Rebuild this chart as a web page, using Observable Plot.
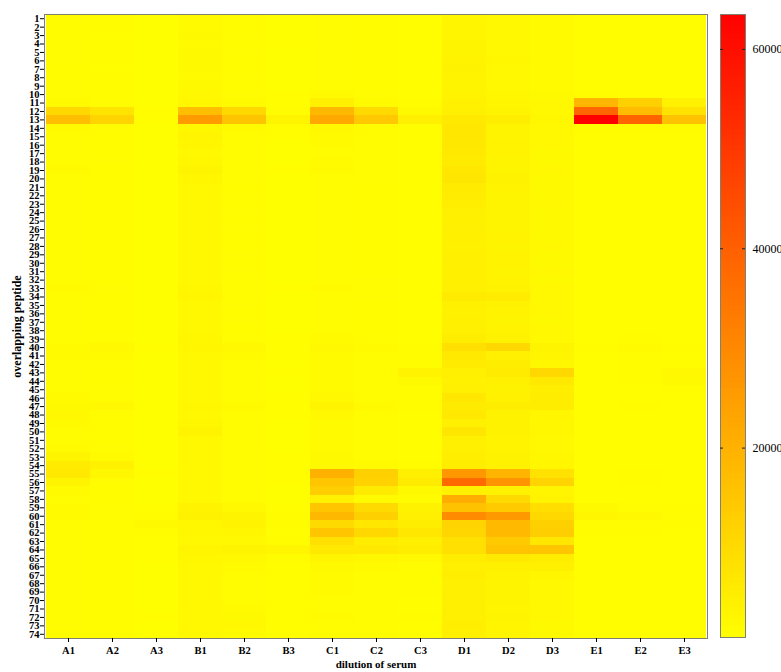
<!DOCTYPE html>
<html>
<head>
<meta charset="utf-8">
<script src="https://cdn.jsdelivr.net/npm/d3@7"></script>
<script src="https://cdn.jsdelivr.net/npm/@observablehq/plot@0.6"></script>
<style>
  html, body { margin: 0; padding: 0; background: #fff; }
  #wrap { position: relative; width: 781px; height: 672px; overflow: hidden; }
  #main { position: absolute; left: 0; top: 0; }
  #bar { position: absolute; left: 715px; top: 0; }
</style>
</head>
<body>
<div id="wrap"><div id="main"></div><div id="bar"></div></div>
<script>
// Column (dilution) labels
const columns = ["A1","A2","A3","B1","B2","B3","C1","C2","C3","D1","D2","D3","E1","E2","E3"];
// Row (overlapping peptide) labels
const peptides = Array.from({length: 74}, (_, i) => String(i + 1));
// Colour bar tick labels
const barTicks = [20000, 40000, 60000];
const valueRange = [1000, 63500];

// Values per column, peptide 1..74
const A1 = [1900,1800,1800,1900,2000,1900,1800,1800,1900,2000,
  2300,10500,17000,2200,2000,2100,2000,2100,2200,2000,
  1900,2000,2100,2000,1900,2000,2100,2000,1900,2000,
  2000,2100,2200,2100,2000,2000,1900,2000,2100,2300,
  2200,2100,2000,2100,2000,2200,2400,2600,2200,2000,
  2100,2300,3800,6000,6500,3800,2200,2100,2300,2200,
  2000,2100,2000,2100,2000,1900,1900,2000,2000,1900,
  1900,2000,1900,1800];
const A2 = [1700,1700,1600,1700,1800,1700,1600,1700,1700,1800,
  2000,7500,11500,1900,1800,1700,1800,1900,1800,1700,
  1700,1800,1700,1700,1800,1700,1700,1800,1700,1700,
  1800,1800,1900,1800,1700,1800,1700,1800,2000,2600,
  2200,1900,1800,1800,1900,2000,2600,2100,1800,1800,
  1800,1900,2300,4500,3000,2100,1800,1800,1900,2000,
  1800,1800,1700,1800,1800,1700,1700,1700,1800,1700,
  1700,1800,1700,1700];
const A3 = [1200,1200,1200,1300,1200,1200,1200,1200,1200,1300,
  1300,1500,1600,1300,1200,1200,1200,1200,1300,1200,
  1200,1200,1200,1200,1200,1300,1200,1200,1200,1200,
  1200,1200,1300,1200,1200,1200,1200,1200,1300,1400,
  1300,1200,1300,1200,1200,1200,1300,1200,1200,1200,
  1200,1200,1300,1300,1400,1300,1200,1200,1500,1800,
  2400,1800,1600,1500,1400,1300,1300,1200,1200,1300,
  1300,1400,1300,1200];
const B1 = [2300,2300,2400,2300,2400,2500,2400,2300,2400,2600,
  3000,17000,25500,3000,3400,3200,2800,2900,3600,3300,
  2700,2600,2700,2800,2600,2700,2600,2700,2800,2700,
  2600,2700,2900,3200,2800,2700,2600,2700,2900,3300,
  2800,2700,2600,2800,2700,2800,3000,2800,2900,3600,
  2700,2600,2700,2800,2700,2600,2700,2800,3900,4300,
  3000,2900,2800,3400,2900,2700,2600,2700,2600,2700,
  2600,2800,2700,2600];
const B2 = [1800,1800,1900,1800,1900,1800,1800,1900,1800,1900,
  2200,10500,15500,2200,2000,1900,2000,2100,2000,1900,
  1800,1900,1800,1900,1800,1900,1800,1800,1900,1800,
  1900,1900,2000,2100,1900,1800,1900,1800,2000,2600,
  2200,2000,1900,2000,1900,2000,2200,2000,1900,2000,
  1900,1900,2000,2000,2100,2000,1900,2000,2800,3700,
  3900,3200,2600,3600,2600,2200,2100,2000,2100,2100,
  2200,2500,2600,2200];
const B3 = [1300,1300,1300,1400,1300,1300,1300,1300,1300,1400,
  1500,1900,3800,1500,1400,1300,1300,1300,1400,1300,
  1300,1300,1300,1300,1300,1300,1300,1300,1300,1300,
  1300,1300,1400,1300,1300,1300,1300,1300,1400,1500,
  1400,1300,1400,1300,1300,1400,1500,1400,1300,1300,
  1300,1300,1400,1400,1500,1400,1300,1300,1500,1700,
  1700,1600,1700,3400,2000,1600,1500,1400,1400,1400,
  1400,1500,1400,1400];
const C1 = [1900,1900,2000,1900,2000,1900,1900,2000,2000,2300,
  5000,18500,22000,2600,2300,2200,2100,2200,2300,2100,
  2000,2000,2100,2000,2000,2100,2000,2000,2100,2000,
  2100,2000,2200,2100,2000,2000,2000,2100,2200,2600,
  2300,2200,2300,2200,2300,2600,3600,2600,2300,2300,
  2200,2300,2400,2500,20000,15000,13000,4500,15000,18500,
  10000,15000,8500,6500,3500,2500,2300,2200,2200,2100,
  2100,2200,2100,2000];
const C2 = [1700,1700,1800,1700,1700,1800,1700,1700,1800,1900,
  2300,10000,14500,2100,1900,1900,2000,1900,1900,1900,
  1800,1800,1800,1800,1800,1800,1800,1800,1800,1800,
  1800,1900,1900,1900,1800,1800,1800,1800,1900,2300,
  2000,1900,2000,1900,2000,2000,2200,2000,1900,1900,
  1900,1900,2000,2200,12500,12000,6000,2200,10000,12500,
  7000,10500,5500,6500,3000,2300,2100,2000,2000,1900,
  1900,2000,1900,1900];
const C3 = [1400,1400,1400,1400,1400,1400,1400,1400,1400,1500,
  1700,2500,5000,1600,1500,1500,1500,1500,1500,1500,
  1400,1400,1400,1400,1400,1400,1400,1400,1400,1400,
  1400,1400,1500,1500,1400,1400,1400,1400,1500,1700,
  1700,1800,4000,2400,1800,1700,1800,1600,1500,1500,
  1500,1500,1600,1800,4800,5800,2500,1800,4200,4800,
  5500,7000,4800,5500,2600,2000,1800,1700,1700,1600,
  1600,1700,1600,1500];
const D1 = [3300,3400,3500,3600,3800,4000,4200,4000,3800,3900,
  4500,5000,6500,6800,7000,6600,6300,5800,6900,7100,
  6000,5600,5100,4800,4700,4900,4700,4500,4700,4900,
  4700,4600,5000,6000,4700,4500,4700,4900,5500,8500,
  6500,6000,5000,4500,5000,7000,5800,6500,5000,7200,
  5000,4800,5200,5500,26500,37500,4500,21000,16000,29500,
  11500,11000,8500,8500,5500,5000,5200,4800,5000,4900,
  4800,5000,5100,4800];
const D2 = [2600,2700,2800,2700,2800,2900,2800,2700,2800,3000,
  3300,3800,5500,3700,3600,3900,4000,3700,3800,4100,
  3900,3800,3700,3700,3600,3800,3900,3700,4000,3900,
  3800,4000,4200,5600,4200,3900,3800,4000,4300,10500,
  5000,5300,5800,4600,4100,4400,5300,4300,4100,4200,
  4000,4000,4100,4400,19500,27500,4200,10000,14000,26000,
  18000,18000,14000,15500,6500,4600,4000,3700,3700,3600,
  3500,3600,3500,3400];
const D3 = [2200,2200,2300,2200,2300,2300,2200,2300,2300,2400,
  2600,2800,3000,2700,2600,2600,2500,2500,2600,2500,
  2500,2500,2600,2500,2500,2500,2500,2600,2500,2500,
  2600,2500,2600,2800,2600,2600,2500,2600,2800,3800,
  3500,3000,10500,6500,5200,5500,5500,3200,3000,2900,
  2800,2800,2900,3100,8000,11500,3500,4000,9000,10500,
  12500,13000,7000,15000,5500,4600,3200,2800,2700,2600,
  2600,2600,2500,2500];
const E1 = [1400,1400,1400,1400,1400,1500,1400,1400,1500,1800,
  19000,38500,63500,1800,1600,1500,1500,1500,1500,1500,
  1400,1400,1400,1400,1400,1400,1400,1400,1400,1400,
  1400,1400,1400,1500,1400,1400,1400,1400,1500,1700,
  1600,1500,1500,1500,1500,1500,1600,1500,1400,1400,
  1400,1400,1500,1500,1600,1600,1500,1500,2400,3300,
  1900,1700,1600,1600,1500,1500,1400,1400,1400,1400,
  1400,1400,1400,1400];
const E2 = [1500,1500,1500,1500,1500,1500,1500,1500,1500,1600,
  12500,17500,39000,1800,1600,1600,1600,1600,1600,1600,
  1500,1500,1500,1500,1500,1500,1500,1500,1500,1500,
  1500,1500,1500,1600,1500,1500,1500,1500,1700,2300,
  1900,1700,1800,1700,1600,1600,1700,1600,1500,1500,
  1500,1500,1600,1600,1700,1700,1600,1600,2000,2700,
  1900,1700,1600,1600,1600,1500,1500,1500,1500,1500,
  1500,1500,1500,1500];
const E3 = [1400,1400,1400,1400,1400,1400,1400,1400,1400,1500,
  4500,8000,16000,1700,1500,1500,1500,1500,1500,1500,
  1400,1400,1400,1400,1400,1400,1400,1400,1400,1400,
  1400,1400,1400,1500,1400,1400,1400,1400,1500,1700,
  1600,1700,2800,2400,1700,1600,1600,1500,1400,1400,
  1400,1400,1500,1500,1600,1600,1500,1500,1700,2000,
  1700,1600,1600,1600,1500,1500,1400,1400,1400,1400,
  1400,1400,1400,1400];

const seriesByColumn = [A1,A2,A3,B1,B2,B3,C1,C2,C3,D1,D2,D3,E1,E2,E3];
const cells = [];
seriesByColumn.forEach((vals, ci) => vals.forEach((v, ri) => {
  cells.push({col: columns[ci], pep: peptides[ri], value: v});
}));

const colorScale = {type: "linear", domain: valueRange, range: ["#ffff00", "#ff0000"], interpolate: "rgb"};
const font = "'Liberation Serif', 'Times New Roman', serif";

const main = Plot.plot({
  width: 715, height: 672,
  marginLeft: 44, marginRight: 8, marginTop: 14, marginBottom: 34,
  style: {fontFamily: font, background: "#fff", color: "#000"},
  x: {domain: columns, padding: 0},
  y: {domain: peptides, padding: 0},
  color: colorScale,
  marks: [
    Plot.cell(cells, {x: "col", y: "pep", fill: "value", inset: 0, shapeRendering: "crispEdges"}),
    Plot.frame({stroke: "#808070", strokeWidth: 1}),
    Plot.axisY({tickSize: 4, tickPadding: 1, fontSize: 10.5, fontWeight: "bold", label: null}),
    Plot.axisX({tickSize: 4, tickPadding: 4, fontSize: 10.5, fontWeight: "bold", label: null}),
    Plot.text(["dilution of serum"], {frameAnchor: "bottom", dy: 29, fontSize: 11, fontWeight: "bold"}),
    Plot.text(["overlapping peptide"], {frameAnchor: "left", textAnchor: "middle", dx: -27, rotate: -90, fontSize: 12, fontWeight: "bold"})
  ]
});
document.getElementById("main").appendChild(main);

// Colour bar (legend gradient)
const steps = 250;
const stops = d3.range(steps).map(i => {
  const lo = valueRange[0] + (valueRange[1] - valueRange[0]) * i / steps;
  const hi = valueRange[0] + (valueRange[1] - valueRange[0]) * (i + 1) / steps;
  return {lo, hi, mid: (lo + hi) / 2};
});
const bar = Plot.plot({
  width: 66, height: 672,
  marginLeft: 5, marginRight: 36, marginTop: 14, marginBottom: 35,
  style: {fontFamily: font, background: "transparent", color: "#000"},
  x: {domain: [0, 1], axis: null},
  y: {domain: valueRange, axis: null},
  color: colorScale,
  marks: [
    Plot.rect(stops, {x1: 0, x2: 1, y1: "lo", y2: "hi", fill: "mid", shapeRendering: "crispEdges"}),
    Plot.frame({stroke: "#808070", strokeWidth: 1}),
    Plot.ruleY(barTicks, {x1: 0, x2: 0.12, stroke: "#222"}),
    Plot.ruleY(barTicks, {x1: 0.88, x2: 1, stroke: "#222"}),
    Plot.axisY(barTicks, {anchor: "right", tickSize: 0, tickPadding: 7, fontSize: 12, tickFormat: d3.format("d"), label: null})
  ]
});
document.getElementById("bar").appendChild(bar);
</script>
</body>
</html>
